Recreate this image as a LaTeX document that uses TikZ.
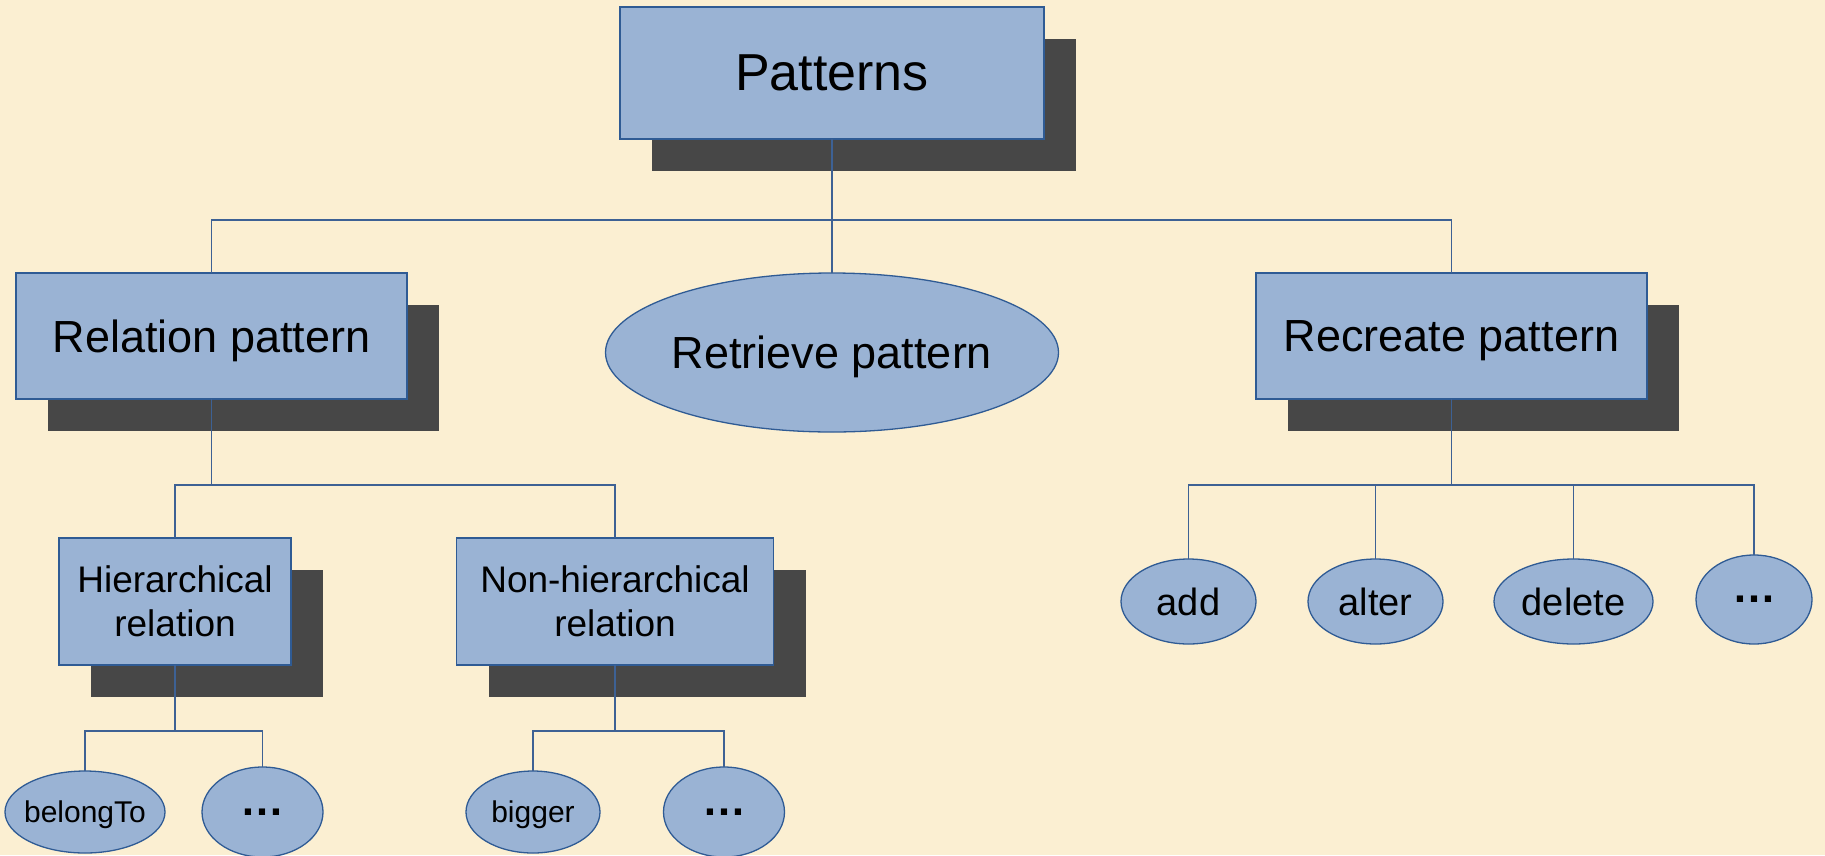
\documentclass[tikz,border=0pt]{standalone}
\usepackage{fontspec}
\setmainfont{Liberation Sans}
\usetikzlibrary{shapes.geometric,shadows}
\definecolor{paper}{HTML}{FBEFD2}
\definecolor{boxfill}{HTML}{9AB3D4}
\definecolor{boxline}{HTML}{2F5B94}
\definecolor{shade}{HTML}{474747}
\definecolor{wire}{HTML}{3D6194}
\tikzset{
  box/.style={draw=boxline,fill=boxfill,line width=1.3pt,inner sep=0pt,outer sep=0pt,
    text depth=0pt,align=center,
    drop shadow={shadow xshift=32pt,shadow yshift=-32pt,fill=shade,opacity=1}},
  oval/.style={ellipse,draw=boxline,fill=boxfill,line width=1.3pt,inner sep=-25pt,outer sep=0pt,
    text depth=0pt},
  more/.style={oval,font=\fontsize{44}{52}\selectfont\bfseries},
  link/.style={draw=wire,line width=1.3pt},
}
\begin{document}
\begin{tikzpicture}[x=1pt,y=-1pt]
\fill[paper] (0,0) rectangle (1825,855);
\useasboundingbox (0,0) rectangle (1825,855);
% top level
\node[box,minimum width=424pt,minimum height=132pt,font=\fontsize{52}{62}\selectfont] (pat) at (832,73) {Patterns};
% second level
\node[box,minimum width=391pt,minimum height=126pt,font=\fontsize{45}{54}\selectfont] (rel) at (211.5,336) {Relation pattern};
\node[oval,minimum width=453pt,minimum height=159pt,font=\fontsize{45}{54}\selectfont] (ret) at (832,352.5) {Retrieve pattern};
\node[box,minimum width=391pt,minimum height=126pt,font=\fontsize{45}{54}\selectfont] (rec) at (1451.5,336) {Recreate pattern};
% relation kinds
\node[box,minimum width=232pt,minimum height=127pt,font=\fontsize{37}{44}\selectfont] (hier) at (175,601.5) {Hierarchical\\relation};
\node[box,minimum width=317pt,minimum height=127pt,font=\fontsize{37}{44}\selectfont] (nonh) at (615,601.5) {Non-hierarchical\\relation};
% leaves
\node[oval,minimum width=160pt,minimum height=82pt,font=\fontsize{30}{36}\selectfont] (blt) at (85,812) {belongTo};
\node[more,minimum width=121pt,minimum height=90pt] (hdots) at (262.5,812) {…};
\node[oval,minimum width=134pt,minimum height=82pt,font=\fontsize{30}{36}\selectfont] (big) at (533,812) {bigger};
\node[more,minimum width=121pt,minimum height=90pt] (ndots) at (724,812) {…};
% operations
\node[oval,minimum width=135pt,minimum height=85pt,font=\fontsize{38}{46}\selectfont] (add) at (1188.5,601.5) {add};
\node[oval,minimum width=135pt,minimum height=85pt,font=\fontsize{38}{46}\selectfont] (alter) at (1375.5,601.5) {alter};
\node[oval,minimum width=159pt,minimum height=85pt,font=\fontsize{38}{46}\selectfont] (del) at (1573.5,601.5) {delete};
\node[more,minimum width=116pt,minimum height=89pt] (rdots) at (1754,599.5) {…};
% buses
\coordinate (busA) at (0,220);
\coordinate (busB) at (0,485);
\coordinate (busC) at (0,731);
\draw[link] (pat.south) -- (ret.north);
\draw[link] (rel.north) -- (rel.north |- busA) -- (rec.north |- busA) -- (rec.north);
\draw[link] (rel.south) -- (rel.south |- busB);
\draw[link] (hier.north) -- (hier.north |- busB) -- (nonh.north |- busB) -- (nonh.north);
\draw[link] (hier.south) -- (hier.south |- busC);
\draw[link] (blt.north) -- (blt.north |- busC) -- (hdots.north |- busC) -- (hdots.north);
\draw[link] (nonh.south) -- (nonh.south |- busC);
\draw[link] (big.north) -- (big.north |- busC) -- (ndots.north |- busC) -- (ndots.north);
\draw[link] (rec.south) -- (rec.south |- busB);
\draw[link] (add.north) -- (add.north |- busB) -- (rdots.north |- busB) -- (rdots.north);
\foreach \n in {alter,del}
  \draw[link] (\n.north) -- (\n.north |- busB);
\end{tikzpicture}
\end{document}
